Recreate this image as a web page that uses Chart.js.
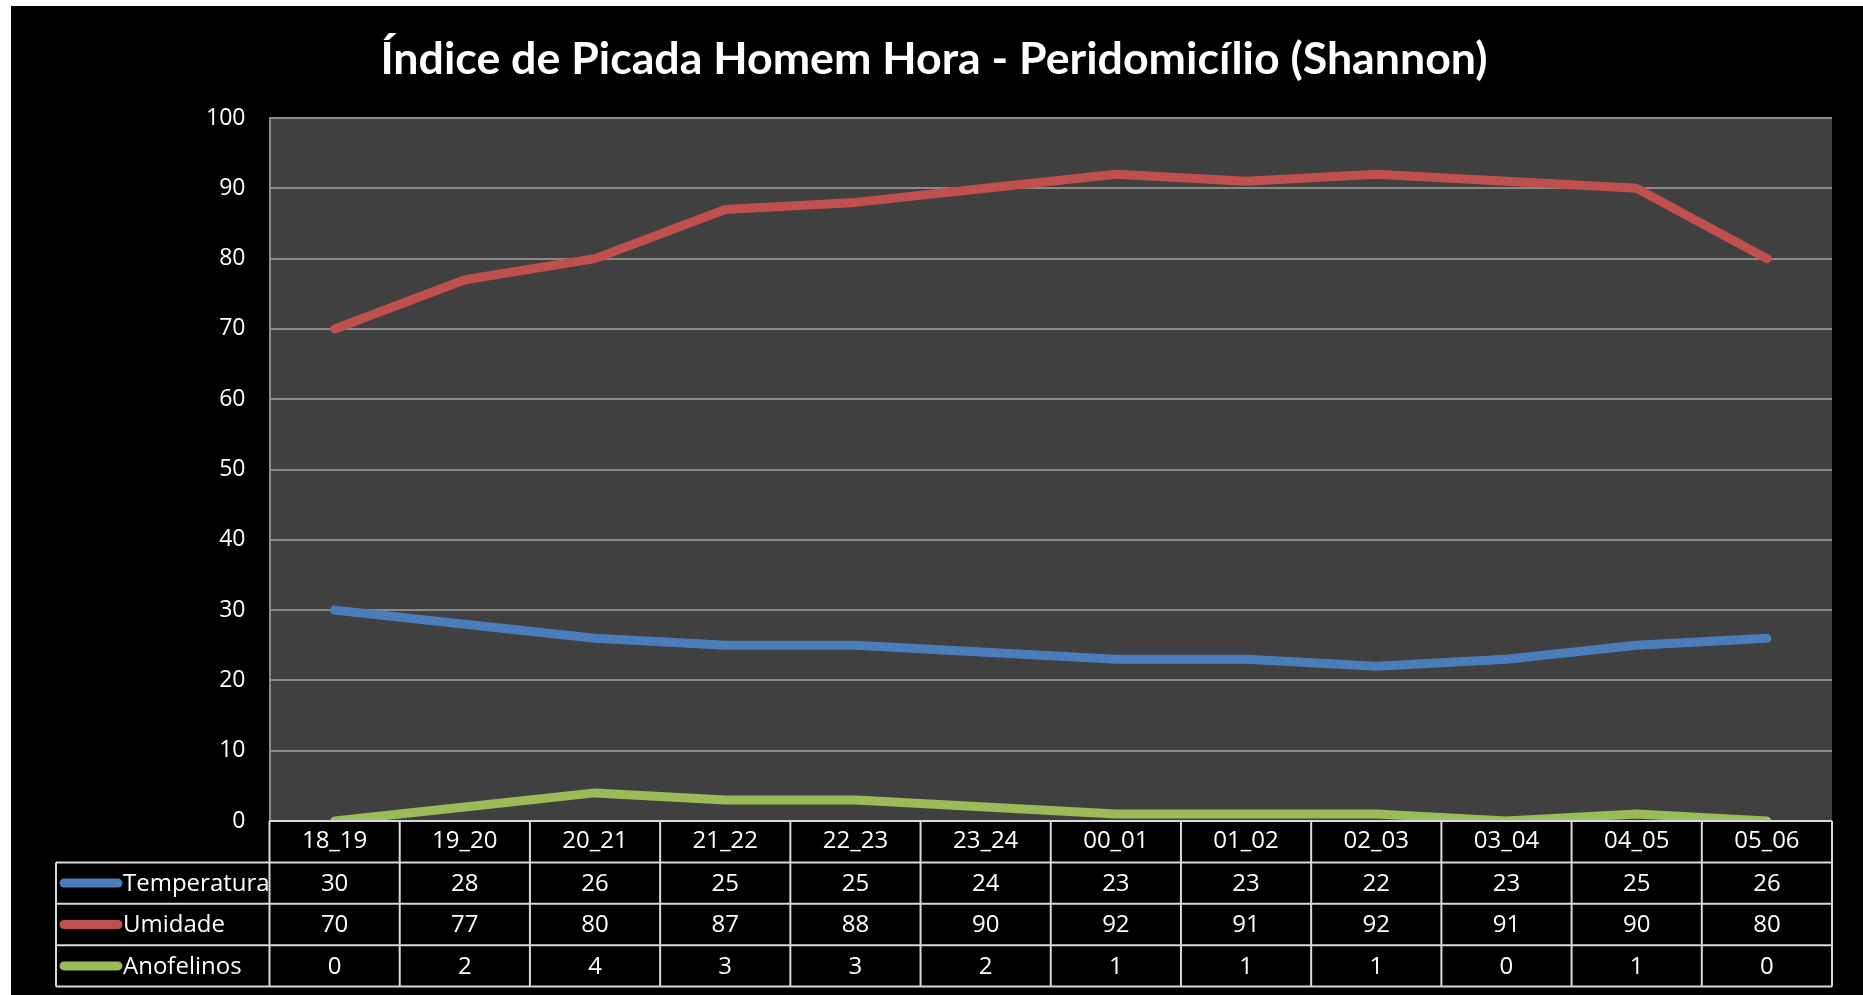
<!DOCTYPE html>
<html><head><meta charset="utf-8">
<script src="https://cdn.jsdelivr.net/npm/chart.js@4.4.1/dist/chart.umd.min.js"></script>
<style>
html,body{margin:0;padding:0;background:#fff;width:1863px;height:995px;overflow:hidden}
#wrap{position:absolute;left:11px;top:6px;width:1852px;height:989px;background:#000}
</style></head><body><div id="wrap"><canvas id="c"></canvas></div>
<script>
const categories = ['18_19','19_20','20_21','21_22','22_23','23_24','00_01','01_02','02_03','03_04','04_05','05_06'];
const temperatura = [30,28,26,25,25,24,23,23,22,23,25,26];
const umidade = [70,77,80,87,88,90,92,91,92,91,90,80];
const anofelinos = [0,2,4,3,3,2,1,1,1,0,1,0];
const seriesNames = ['Temperatura','Umidade','Anofelinos'];
const seriesColors = ['#4A7EBB','#C0504D','#9BBB59'];
const yMin = 0, yMax = 100, yStep = 10;
const titleText = 'Índice de Picada Homem Hora - Peridomicílio (Shannon)';

const FONT = "'Open Sans', sans-serif";
const seriesData = [temperatura, umidade, anofelinos];

const tablePlugin = {
  id: 'dataTable',
  beforeDraw(chart) {
    const {ctx, chartArea: a} = chart;
    ctx.save();
    ctx.fillStyle = '#404040';
    ctx.fillRect(a.left, a.top, a.right - a.left, a.bottom - a.top);
    ctx.restore();
  },
  afterDraw(chart) {
    const {ctx, chartArea: a, scales: {x}} = chart;
    const rowH = 41.4, tableLeft = 45;
    const n = categories.length;
    const colW = n > 1 ? x.getPixelForValue(1) - x.getPixelForValue(0) : (a.right - a.left);
    ctx.save();
    ctx.strokeStyle = '#d9d9d9';
    ctx.lineWidth = 2;
    ctx.beginPath();
    ctx.moveTo(a.left, a.bottom); ctx.lineTo(a.right, a.bottom);
    for (let r = 1; r <= 4; r++) {
      ctx.moveTo(tableLeft, a.bottom + r * rowH); ctx.lineTo(a.right, a.bottom + r * rowH);
    }
    ctx.moveTo(tableLeft, a.bottom + rowH); ctx.lineTo(tableLeft, a.bottom + 4 * rowH);
    for (let i = 0; i <= n; i++) {
      const px = i < n ? x.getPixelForValue(i) - colW / 2 : x.getPixelForValue(n - 1) + colW / 2;
      ctx.moveTo(px, a.bottom); ctx.lineTo(px, a.bottom + 4 * rowH);
    }
    ctx.stroke();
    ctx.fillStyle = '#ffffff';
    ctx.font = "24px " + FONT;
    ctx.textBaseline = 'middle';
    for (let s = 0; s < seriesData.length; s++) {
      const cy = a.bottom + (s + 1.5) * rowH;
      ctx.textAlign = 'center';
      for (let i = 0; i < n; i++) {
        ctx.fillText(String(seriesData[s][i]), x.getPixelForValue(i), cy + 1);
      }
      ctx.strokeStyle = seriesColors[s];
      ctx.lineWidth = 9;
      ctx.lineCap = 'round';
      ctx.beginPath();
      ctx.moveTo(tableLeft + 8, cy); ctx.lineTo(tableLeft + 62, cy);
      ctx.stroke();
      ctx.textAlign = 'left';
      ctx.fillText(seriesNames[s], tableLeft + 67, cy + 1);
    }
    ctx.restore();
  }
};

Chart.defaults.font.family = FONT;
Chart.defaults.color = '#ffffff';

new Chart(document.getElementById('c'), {
  type: 'line',
  data: {
    labels: categories,
    datasets: seriesNames.map((name, i) => ({
      label: name,
      data: seriesData[i],
      borderColor: seriesColors[i],
      backgroundColor: seriesColors[i],
      borderWidth: 9,
      borderCapStyle: 'round',
      borderJoinStyle: 'round',
      pointRadius: 0,
      tension: 0,
      clip: 0
    }))
  },
  options: {
    responsive: true,
    maintainAspectRatio: false,
    animation: false,
    devicePixelRatio: 1,
    layout: {padding: {left: 25, right: 31, top: 0, bottom: 0}},
    plugins: {
      legend: {display: false},
      tooltip: {enabled: false},
      title: {
        display: true,
        text: titleText,
        color: '#ffffff',
        font: {family: "'Lato', sans-serif", size: 44.7, weight: 'bold', lineHeight: 1.2},
        padding: {top: 26.4, bottom: 32}
      }
    },
    scales: {
      x: {
        offset: true,
        grid: {display: false, drawTicks: false},
        border: {display: false},
        ticks: {color: '#ffffff', font: {size: 24}, padding: 6, maxRotation: 0, autoSkip: false},
        afterFit(scale) { scale.height = 174; }
      },
      y: {
        min: yMin, max: yMax,
        grid: {color: '#8a8a8a', lineWidth: 2, drawTicks: false},
        border: {display: true, color: '#8a8a8a', width: 2},
        ticks: {stepSize: yStep, color: '#ffffff', font: {size: 23}, padding: 24},
        afterFit(scale) { scale.width = 233.5; }
      }
    }
  },
  plugins: [tablePlugin]
});
</script>
</body></html>
